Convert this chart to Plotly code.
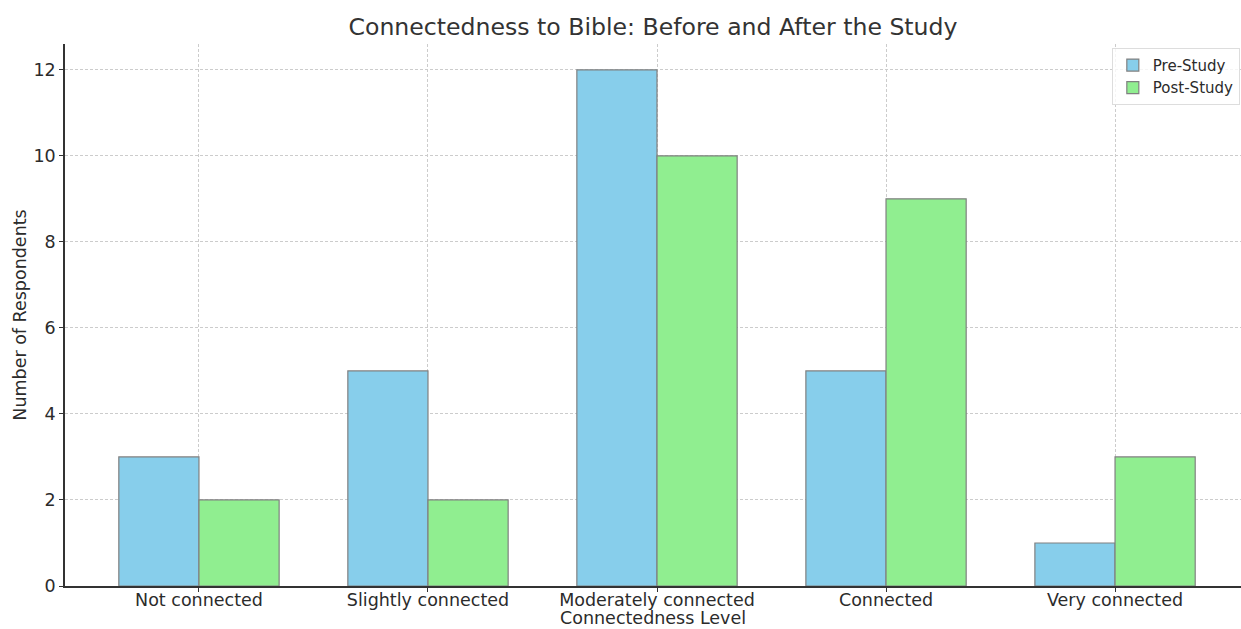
import plotly.graph_objects as go

# Survey responses by connectedness level
categories = ["Not connected", "Slightly connected", "Moderately connected", "Connected", "Very connected"]
pre_study = [3, 5, 12, 5, 1]
post_study = [2, 2, 10, 9, 3]
y_ticks = [0, 2, 4, 6, 8, 10, 12]

bar_w = 0.35
idx = list(range(len(categories)))

fig = go.Figure()
fig.add_trace(go.Bar(
    x=[i - bar_w / 2 for i in idx], y=pre_study, width=bar_w, name="Pre-Study",
    marker=dict(color="#87CEEB", line=dict(color="#808080", width=1.2)),
))
fig.add_trace(go.Bar(
    x=[i + bar_w / 2 for i in idx], y=post_study, width=bar_w, name="Post-Study",
    marker=dict(color="#90EE90", line=dict(color="#808080", width=1.2)),
))

font_family = "DejaVu Sans"
text_color = "#2b2b2b"
fig.update_layout(
    width=1241, height=629,
    margin=dict(l=65, r=0, t=44, b=43),
    paper_bgcolor="white", plot_bgcolor="white",
    font=dict(family=font_family, size=17.5, color=text_color),
    title=dict(text="Connectedness to Bible: Before and After the Study",
               x=0.5, xref="paper", xanchor="center", y=0.957, yanchor="middle",
               font=dict(size=23.6, color="#333333")),
    showlegend=True,
    legend=dict(x=0.999, y=0.993, xanchor="right", yanchor="top",
                bgcolor="rgba(255,255,255,0.8)", bordercolor="#dddddd", borderwidth=1,
                font=dict(size=15, color=text_color), tracegroupgap=0),
    barmode="overlay",
    annotations=[dict(text="Connectedness Level", xref="paper", yref="paper",
                      x=0.5, y=0, yshift=-32, xanchor="center", yanchor="middle",
                      showarrow=False, font=dict(size=17.5, color=text_color))],
)
fig.update_xaxes(
    range=[-0.585, 4.55],
    tickmode="array", tickvals=idx, ticktext=categories,
    showline=True, linecolor="#333333", linewidth=1.5,
    ticks="outside", ticklen=4, tickcolor="#333333",
    ticklabelstandoff=-7,
    showgrid=True, gridcolor="#cccccc", griddash="3px,2px", gridwidth=1,
    zeroline=False,
)
fig.update_yaxes(
    range=[0, 12.6],
    tickmode="array", tickvals=y_ticks,
    showline=True, linecolor="#333333", linewidth=1.5,
    ticks="outside", ticklen=4, tickcolor="#333333",
    showgrid=True, gridcolor="#cccccc", griddash="3px,2px", gridwidth=1,
    zeroline=False,
    title=dict(text="Number of Respondents", standoff=2, font=dict(size=17.5)),
)

fig.write_html("out.html")
